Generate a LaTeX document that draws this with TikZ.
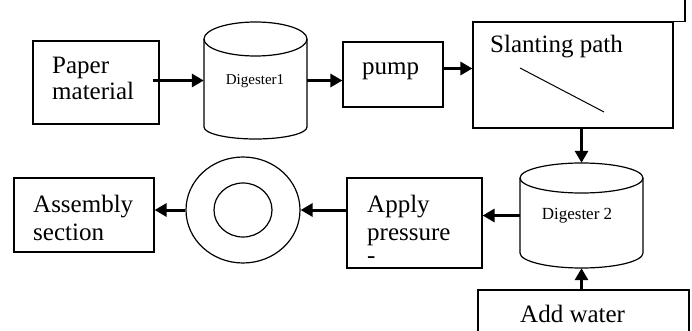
\documentclass[tikz,border=0pt]{standalone}
\usepackage{fontspec}
\setmainfont{Liberation Serif}
\usetikzlibrary{arrows.meta,calc,shapes.geometric}
\begin{document}
\begin{tikzpicture}[x=1pt,y=-1pt,
  boxnode/.style={draw, line width=1.2pt, rectangle, inner sep=0pt},
  area/.style={rectangle, inner sep=0pt},
  outline/.style={line width=1.2pt},
  flow/.style={line width=3pt, -{Triangle[length=12pt,width=13pt]}},
  lbl/.style={font=\fontsize{25}{28}\selectfont, anchor=base west, inner sep=0pt},
  small/.style={font=\fontsize{15}{17}\selectfont, inner sep=0pt}]
\useasboundingbox (0,0) rectangle (692,331);
% boxes
\node[boxnode, minimum width=126pt, minimum height=83pt] (paper) at (96,82.5) {};
\node[area, minimum width=103pt, minimum height=117pt] (dig1) at (255.5,80.5) {};
\node[boxnode, minimum width=100pt, minimum height=65pt] (pump) at (393,74.5) {};
\node[boxnode, minimum width=200pt, minimum height=106pt] (slant) at (573,75) {};
\node[area, minimum width=123pt, minimum height=105pt] (dig2) at (581.5,215.5) {};
\node[boxnode, minimum width=135pt, minimum height=90pt] (apply) at (414.5,223) {};
\node[draw, ellipse, line width=1.2pt, minimum width=114pt, minimum height=106pt, inner sep=0pt] (rings) at (243,210) {};
\node[draw, ellipse, line width=1.2pt, minimum width=58pt, minimum height=54pt, inner sep=0pt] (ringin) at (243,210) {};
\node[boxnode, minimum width=140pt, minimum height=74pt] (asm) at (84,215) {};
\node[boxnode, minimum width=211pt, minimum height=54pt] (water) at (583.5,317) {};
% cylinders
\draw[outline] (255.5,39) ellipse [x radius=51.5pt, y radius=17pt];
\draw[outline] (204,39) -- (204,127) arc[start angle=180, end angle=360, x radius=51.5pt, y radius=12pt] -- (307,39);
\draw[outline] (581.5,178) ellipse [x radius=61.5pt, y radius=15pt];
\draw[outline] (520,178) -- (520,253) arc[start angle=180, end angle=360, x radius=61.5pt, y radius=15pt] -- (643,178);
% slanting line and top-right fragment
\draw[line width=1pt] (520,68) -- (604,112);
\coordinate (frag) at (685,0);
\draw[line width=1.2pt] (frag) |- (slant.north east);
% texts
\node[lbl] (t1) at (52,74) {Paper};
\node[lbl] (t2) at (52,100) {material};
\node[small] (t3) at (255,81) {Digester1};
\node[lbl] (t4) at (362,75) {pump};
\node[lbl] (t5) at (490,53) {Slanting path};
\node[small, font=\fontsize{17}{19}\selectfont] (t6) at (577,216) {Digester 2};
\node[lbl] (t7) at (367,212) {Apply};
\node[lbl] (t8) at (367,240) {pressure};
\node[lbl] (t9) at (367,263) {-};
\node[lbl] (t10) at (33,212) {Assembly};
\node[lbl] (t11) at (33,240) {section};
\node[lbl] (t12) at (520,322) {Add water};
% connectors
\draw[flow] ([xshift=-7pt]dig1.west -| paper.east) -- (dig1.west);
\draw[flow] (dig1.east) -- (dig1.east -| pump.west);
\draw[flow] ([yshift=6pt]pump.east) -- ([yshift=6pt]pump.east -| slant.west);
\draw[flow] (slant.south -| dig2.north) -- (dig2.north);
\draw[flow] (dig2.west) -- (dig2.west -| apply.east);
\draw[flow] (rings.east -| apply.west) -- (rings.east);
\draw[flow] (rings.west) -- (rings.west -| asm.east);
\draw[flow] (water.north -| dig2.south) -- (dig2.south);
\end{tikzpicture}
\end{document}
